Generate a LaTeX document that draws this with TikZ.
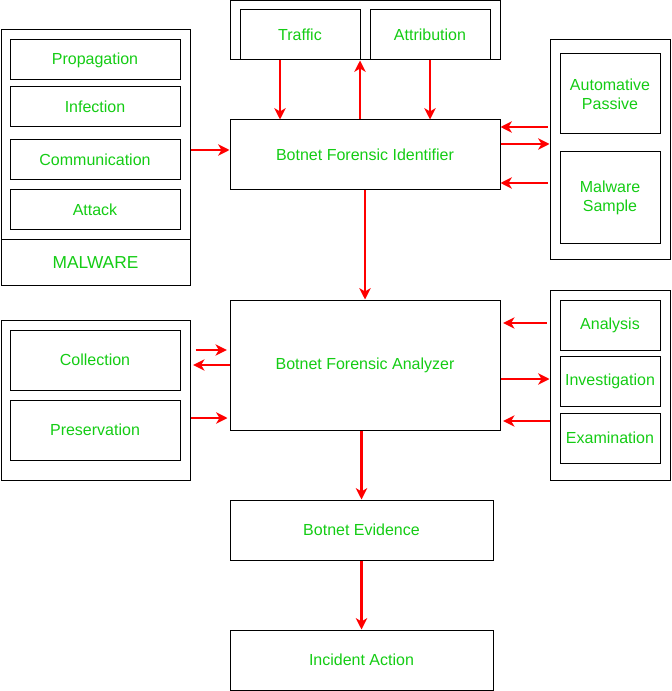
\documentclass[tikz,border=0pt]{standalone}
\usepackage{fontspec}
\setmainfont{Liberation Sans}
\usetikzlibrary{arrows.meta}
\definecolor{fgreen}{RGB}{20,204,20}
\definecolor{fred}{RGB}{255,0,0}
\begin{document}
\begin{tikzpicture}[x=0.75pt,y=-0.75pt,
  box/.style={draw=black,line width=0.75pt,inner sep=0pt,text=fgreen,align=center,
    font=\fontsize{12pt}{14pt}\selectfont},
  arr/.style={draw=fred,line width=2.2pt,-{Stealth[length=8.5pt,width=8.5pt,inset=2.5pt]}}]
\useasboundingbox (0,0) rectangle (671,691);
% helper coordinates
\coordinate (x280) at (280,0);
\coordinate (x360) at (360,0);
\coordinate (y127) at (0,127);
\coordinate (y144) at (0,144);
\coordinate (y150) at (0,150);
\coordinate (y183) at (0,183);
\coordinate (y323) at (0,323);
\coordinate (y350) at (0,350);
\coordinate (y379) at (0,379);
\coordinate (y418) at (0,418);
\coordinate (y421) at (0,421);
% malware group
\node[box,minimum width=141.75pt,minimum height=191.25pt] (malwareOuter) at (95.5,157.5) {};
\node[box,minimum width=141.75pt,minimum height=33.75pt,font=\fontsize{13pt}{15pt}\selectfont] (malware) at (95.5,262.5) {MALWARE};
\node[box,minimum width=127.5pt,minimum height=30pt] (propagation) at (95,60) {Propagation};
\node[box,minimum width=127.5pt,minimum height=30pt] (infection) at (95,107) {Infection};
\node[box,minimum width=127.5pt,minimum height=30pt] (communication) at (95,160) {Communication};
\node[box,minimum width=127.5pt,minimum height=30pt] (attack) at (95,210) {Attack};
% top group
\node[box,minimum width=202.5pt,minimum height=44.25pt] (topOuter) at (365,30.5) {};
\node[box,minimum width=90pt,minimum height=37.5pt] (traffic) at (300,35) {Traffic};
\node[box,minimum width=90pt,minimum height=37.5pt] (attribution) at (430,35) {Attribution};
% identifier
\node[box,minimum width=202.5pt,minimum height=52.5pt] (identifier) at (365,155) {Botnet Forensic Identifier};
% right top group
\node[box,minimum width=90pt,minimum height=165pt] (rightTopOuter) at (610,150) {};
\node[box,minimum width=75pt,minimum height=60pt] (autoPassive) at (610,94) {Automative\\Passive};
\node[box,minimum width=75pt,minimum height=69pt] (malwareSample) at (610,198) {Malware\\Sample};
% analyzer
\node[box,minimum width=202.5pt,minimum height=97.5pt] (analyzer) at (365,365) {Botnet Forensic Analyzer};
% left bottom group
\node[box,minimum width=141.75pt,minimum height=120pt] (leftBottomOuter) at (95.5,400) {};
\node[box,minimum width=127.5pt,minimum height=45pt] (collection) at (95,360) {Collection};
\node[box,minimum width=127.5pt,minimum height=45pt] (preservation) at (95,430) {Preservation};
% right bottom group
\node[box,minimum width=90pt,minimum height=142.5pt] (rightBottomOuter) at (610,385) {};
\node[box,minimum width=75pt,minimum height=37.5pt] (analysis) at (610,325) {Analysis};
\node[box,minimum width=75pt,minimum height=37.5pt] (investigation) at (610,381) {Investigation};
\node[box,minimum width=75pt,minimum height=37.5pt] (examination) at (610,438) {Examination};
% evidence and action
\node[box,minimum width=197.25pt,minimum height=45pt] (evidence) at (361.5,530) {Botnet Evidence};
\node[box,minimum width=197.25pt,minimum height=45pt] (incident) at (361.5,660) {Incident Action};
% arrows
\draw[arr] (malwareOuter.east |- y150) -- (identifier.west |- y150);
\draw[arr] (traffic.south -| x280) -- (identifier.north -| x280);
\draw[arr] (identifier.north -| x360) -- (topOuter.south -| x360);
\draw[arr] (attribution.south) -- (identifier.north -| attribution.south);
\draw[arr] ([xshift=-1.5pt]rightTopOuter.west |- y127) -- (identifier.east |- y127);
\draw[arr] (identifier.east |- y144) -- (rightTopOuter.west |- y144);
\draw[arr] ([xshift=-1.5pt]rightTopOuter.west |- y183) -- (identifier.east |- y183);
\draw[arr] (identifier.south -| analyzer.north) -- (analyzer.north);
\draw[arr] ([xshift=3.75pt]leftBottomOuter.east |- y350) -- ([xshift=-2pt]analyzer.west |- y350);
\draw[arr] (analyzer.west) -- ([xshift=2pt]leftBottomOuter.east |- analyzer.west);
\draw[arr] (leftBottomOuter.east |- y418) -- ([xshift=-1.5pt]analyzer.west |- y418);
\draw[arr] ([xshift=-2pt]rightBottomOuter.west |- y323) -- ([xshift=2pt]analyzer.east |- y323);
\draw[arr] (analyzer.east |- y379) -- (rightBottomOuter.west |- y379);
\draw[arr] (rightBottomOuter.west |- y421) -- ([xshift=2pt]analyzer.east |- y421);
\draw[arr] (analyzer.south -| evidence.north) -- (evidence.north);
\draw[arr] (evidence.south) -- (incident.north);
\end{tikzpicture}
\end{document}
